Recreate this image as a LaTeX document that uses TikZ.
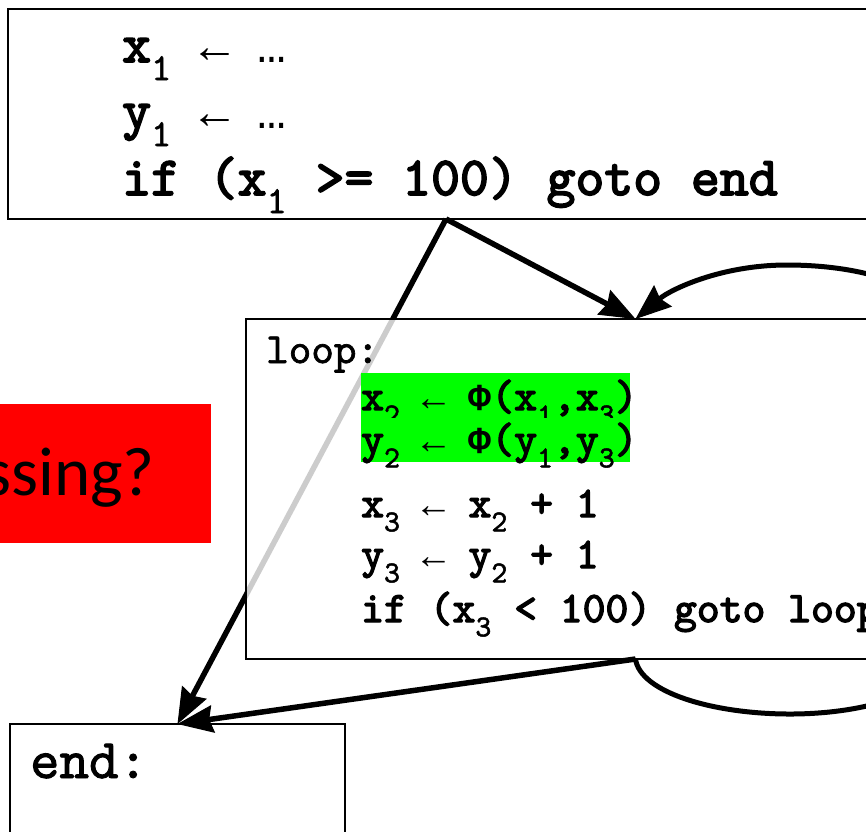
\documentclass[tikz,border=0pt]{standalone}
\usepackage{fontspec}
\usepackage{graphicx}
\usetikzlibrary{arrows.meta, calc, positioning}
\newfontfamily\slabfont[FakeBold=3]{lmmono10-regular.otf}
\newfontfamily\labelfont[FakeBold=1.6]{lmmono10-regular.otf}
\newfontfamily\symfont{Liberation Mono}
\newfontfamily\slidefont{Carlito}
\definecolor{phigreen}{RGB}{0,255,0}
\newcommand{\lowidx}[1]{\raisebox{-0.33em}{\labelfont\scalebox{0.7}{#1}}}
\newcommand{\getsarr}{{\symfont\scalebox{0.875}{←}}}
\newcommand{\etcdots}{{\symfont\scalebox{0.875}{…}}}
\newcommand{\phisym}{{\symfont\bfseries\scalebox{0.875}{Φ}}}

\begin{document}
\begin{tikzpicture}[x=1pt,y=-1pt,
    blockbox/.style={draw,line width=1.6pt,inner sep=0pt,outer sep=0pt},
    codeline/.style={anchor=base west,inner sep=0pt},
    bigcode/.style={codeline,font={\slabfont\fontsize{55}{55}\selectfont}},
    smallcode/.style={codeline,font={\slabfont\fontsize{43.5}{43.5}\selectfont}},
    flowarrow/.style={line width=5.5pt,-{Stealth[length=36pt,width=28pt,inset=4pt,line width=1pt]}}]
\useasboundingbox (0,0) rectangle (866,831);
\clip (0,0) rectangle (866,831);
%
\node[blockbox,minimum width=876pt,minimum height=210pt] (entry) at (446,114) {};
\node[bigcode] (xinit) at (122,62) {x\lowidx{1} \getsarr{} \etcdots};
\node[bigcode] (yinit) at (122,128) {y\lowidx{1} \getsarr{} \etcdots};
\node[bigcode] (ifentry) at (122,195) {if (x\lowidx{1} >= 100) goto end};

%
\node[fill=red,minimum width=211pt,minimum height=139pt,inner sep=0pt] (qbox) at (105.5,473.5) {};
\node[anchor=base east,inner sep=0pt,font={\slidefont\fontsize{69}{69}\selectfont}] (qtext) at (155,495) {ssing?};

%
\node[blockbox,minimum width=335pt,minimum height=200pt] (endb) at (177.5,824) {};
\node[codeline,font={\labelfont\fontsize{56}{56}\selectfont}] (endlbl) at (30,778) {end:};

%
\draw[flowarrow] (entry.south) -- (endb.north);
\node[blockbox,fill=white,fill opacity=0.8,minimum width=779pt,minimum height=340pt] (loopb) at (635.5,489) {};
\node[codeline,font={\labelfont\fontsize{43}{43}\selectfont}] (looplbl) at (266,363) {loop:};
\fill[phigreen] (361,373) rectangle (630,418);
\node[smallcode] (phix) at (361,410) {x\lowidx{2} \getsarr{} \phisym(x\lowidx{1},x\lowidx{3})};
\fill[phigreen] (361,418) rectangle (630,462);
\node[smallcode] (phiy) at (361,453) {y\lowidx{2} \getsarr{} \phisym(y\lowidx{1},y\lowidx{3})};
\node[smallcode] (incx) at (361,517) {x\lowidx{3} \getsarr{} x\lowidx{2} + 1};
\node[smallcode] (incy) at (361,568) {y\lowidx{3} \getsarr{} y\lowidx{2} + 1};
\node[smallcode] (ifloop) at (361,622) {if (x\lowidx{3} < 100) goto loop};

%
\draw[flowarrow] (entry.south) -- (loopb.north);
\draw[flowarrow] (loopb.south) -- (endb.north);
\draw[flowarrow,line width=5pt] (loopb.south) .. controls (640,692) and (712,714) .. (790,714)
    .. controls (870,714) and (950,690) .. (950,640) -- (940,330)
    .. controls (940,290) and (870,265) .. (787,265)
    .. controls (720,265) and (670,290) .. (loopb.north);
\end{tikzpicture}
\end{document}
